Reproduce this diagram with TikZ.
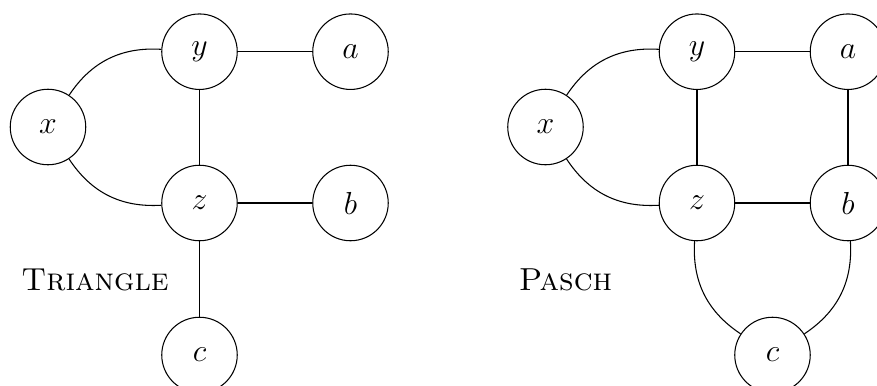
\documentclass[tikz,border=0pt]{standalone}
\begin{document}
\begin{tikzpicture}[x=0.013245cm, y=-0.013245cm,
  vertex/.style={draw, circle, minimum size=1cm, inner sep=0pt, font=\large},
  title/.style={font=\large\scshape}]
\useasboundingbox (0,0) rectangle (877,385);

% Triangle configuration
\begin{scope}
  \node[vertex] (x1) at (48,127) {$x$};
  \node[vertex] (y1) at (199.5,51.7) {$y$};
  \node[vertex] (a1) at (350.5,51.7) {$a$};
  \node[vertex] (z1) at (199.5,203) {$z$};
  \node[vertex] (b1) at (350.5,203) {$b$};
  \node[vertex] (c1) at (199.5,355) {$c$};
  \node[title] (tri) at (95,280) {Triangle};
  \draw (x1) to[bend left] (y1);
  \draw (x1) to[bend right] (z1);
  \draw (y1) -- (a1);
  \draw (y1) -- (z1);
  \draw (z1) -- (b1);
  \draw (z1) -- (c1);
\end{scope}

% Pasch configuration
\begin{scope}[xshift=497.5*0.013245cm]
  \node[vertex] (x2) at (48,127) {$x$};
  \node[vertex] (y2) at (199.5,51.7) {$y$};
  \node[vertex] (a2) at (350.5,51.7) {$a$};
  \node[vertex] (z2) at (199.5,203) {$z$};
  \node[vertex] (b2) at (350.5,203) {$b$};
  \node[vertex] (c2) at (275,355) {$c$};
  \node[title] (pasch) at (68,280) {Pasch};
  \draw (x2) to[bend left] (y2);
  \draw (x2) to[bend right] (z2);
  \draw (y2) -- (a2);
  \draw (y2) -- (z2);
  \draw (z2) -- (b2);
  \draw (a2) -- (b2);
  \draw (z2) to[bend right] (c2);
  \draw (b2) to[bend left] (c2);
\end{scope}
\end{tikzpicture}
\end{document}
